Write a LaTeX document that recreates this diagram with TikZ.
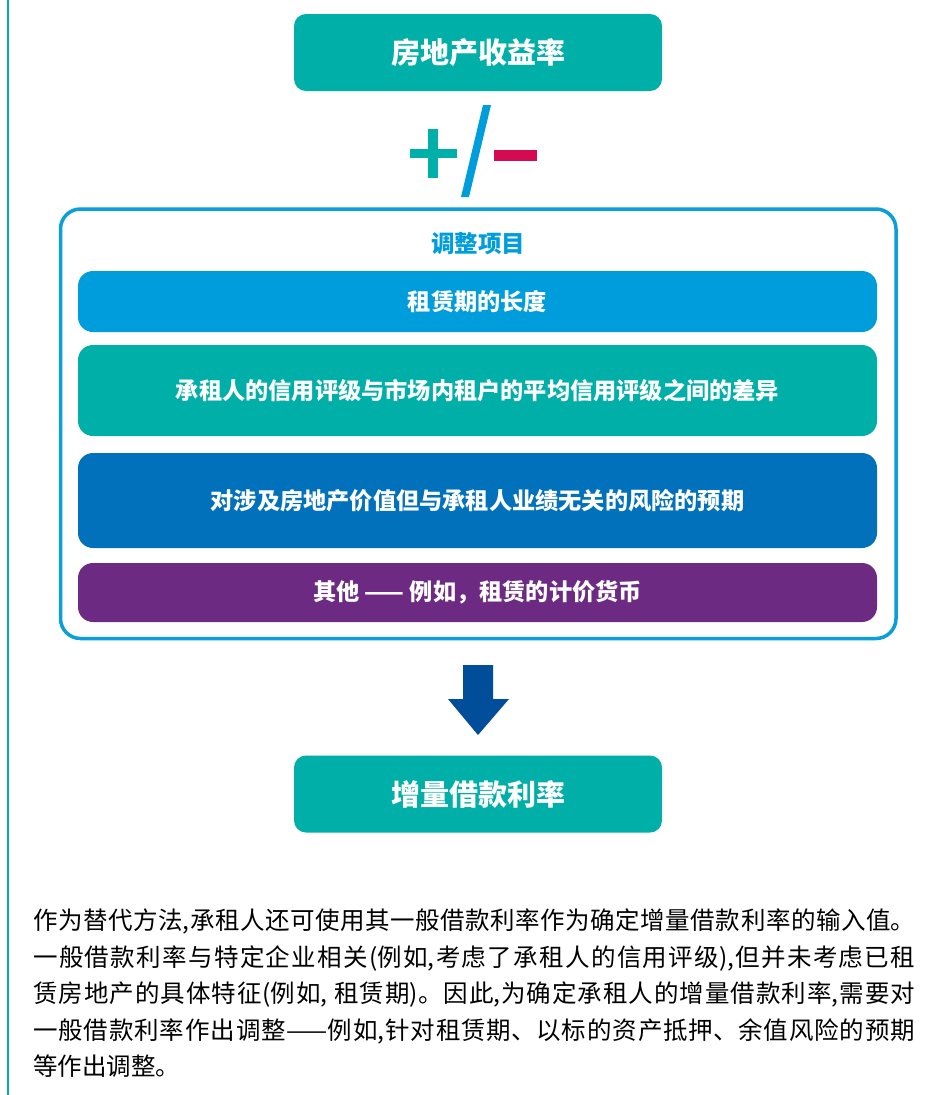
\documentclass[tikz,border=0pt]{standalone}
\usepackage{fontspec}
\setmainfont{Noto Sans CJK SC}
\XeTeXlinebreaklocale "zh"
\XeTeXlinebreakskip=0pt plus 3pt
\definecolor{cteal}{HTML}{00AFA7}
\definecolor{cblue}{HTML}{009DDC}
\definecolor{cdblue}{HTML}{0071BA}
\definecolor{cpurple}{HTML}{6D2A82}
\definecolor{carrow}{HTML}{004E9A}
\definecolor{cred}{HTML}{D50B52}
\definecolor{cborder}{HTML}{0A9EDB}
\tikzset{
  mainbox/.style={fill=cteal, text=white, rounded corners=12pt, minimum width=368pt, minimum height=77pt, inner sep=0pt, font=\fontsize{29}{34}\selectfont\bfseries},
  itembox/.style={text=white, rounded corners=15pt, minimum width=799pt, inner sep=0pt, font=\fontsize{23.2}{28}\selectfont\bfseries},
}
\begin{document}
\begin{tikzpicture}[x=1pt,y=-1pt]
\useasboundingbox (0,0) rectangle (930,1095);
\fill[white] (0,0) rectangle (930,1095);
\draw[cteal, line width=2pt] (8,0) -- (8,1095);
% top box
\node[mainbox] (top) at (478,52.5) {房地产收益率};
% plus / minus
\fill[cteal] (410,149) rectangle (457,158);
\fill[cteal] (428,129) rectangle (438,178);
\fill[cblue] (461,197) -- (469,197) -- (491,105) -- (483,105) -- cycle;
\fill[cred] (494,150) rectangle (537,161);
% container
\draw[cborder, line width=3.5pt, rounded corners=20pt] (60.5,209) rectangle (896,638.5);
\node[text=cblue, font=\fontsize{23.5}{28}\selectfont\bfseries, inner sep=0pt] (title) at (478,244) {调整项目};
\node[itembox, fill=cblue, minimum height=61pt] (b1) at (477.5,301.5) {租赁期的长度};
\node[itembox, fill=cteal, minimum height=91pt] (b2) at (477.5,390.5) {承租人的信用评级与市场内租户的平均信用评级之间的差异};
\node[itembox, fill=cdblue, minimum height=95pt] (b3) at (477.5,500.5) {对涉及房地产价值但与承租人业绩无关的风险的预期};
\node[itembox, fill=cpurple, minimum height=59pt] (b4) at (477.5,592.5) {其他 —— 例如，租赁的计价货币};
% arrow
\fill[carrow] (463,665) -- (493,665) -- (493,699) -- (509,699) -- (478,735) -- (448,699) -- (463,699) -- cycle;
% bottom box
\node[mainbox] (bot) at (478,794) {增量借款利率};
% paragraph
\node[anchor=north west, text width=882pt, align=justify, inner sep=0pt, font=\fontsize{24.5}{36.5}\selectfont] (para) at (33,909) {作为替代方法,承租人还可使用其一般借款利率作为确定增量借款利率的输入值。\linebreak 一般借款利率与特定企业相关(例如,考虑了承租人的信用评级),但并未考虑已租\linebreak 赁房地产的具体特征(例如, 租赁期)。因此,为确定承租人的增量借款利率,需要对\linebreak 一般借款利率作出调整——例如,针对租赁期、以标的资产抵押、余值风险的预期\linebreak 等作出调整。};
\end{tikzpicture}
\end{document}
